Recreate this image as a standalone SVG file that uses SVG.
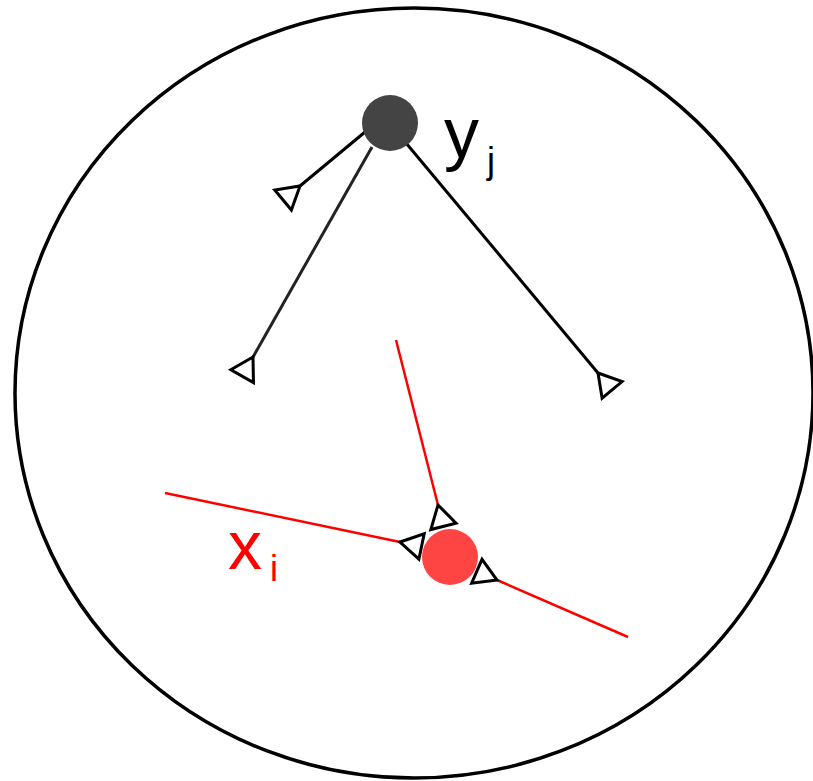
<svg xmlns="http://www.w3.org/2000/svg" width="813" height="781" viewBox="0 0 813 781">
<defs>
<style>
.blk{stroke:#000;stroke-width:3;fill:none}
.gry{stroke:#222;stroke-width:3;fill:none}
.red{stroke:#ff0000;stroke-width:2.5;fill:none}
.lbl{font-family:"Liberation Sans",Arial,sans-serif}
</style>
<marker id="tri" markerUnits="userSpaceOnUse" markerWidth="32" markerHeight="34" viewBox="-3 -17 32 34" refX="0" refY="0" orient="auto">
<path d="M0,0 L22,-13 L22,13 Z" fill="#fff" stroke="#000" stroke-width="3" stroke-linejoin="miter"/>
</marker>
</defs>
<ellipse cx="414" cy="393" rx="399" ry="385" fill="none" stroke="#000" stroke-width="3.5"/>
<g id="connectors">
<line class="blk" x1="365" y1="132" x2="300" y2="186" marker-end="url(#tri)"/>
<line class="gry" x1="372" y1="147" x2="253" y2="357" marker-end="url(#tri)"/>
<line class="blk" x1="406" y1="143" x2="598" y2="373" marker-end="url(#tri)"/>
<line class="red" x1="396" y1="340" x2="438" y2="505" marker-end="url(#tri)"/>
<line class="red" x1="165" y1="493" x2="400" y2="542" marker-end="url(#tri)"/>
<line class="red" x1="628" y1="637" x2="497" y2="580" marker-end="url(#tri)"/>
</g>
<g id="node-y">
<circle cx="390" cy="123" r="28" fill="#444"/>
<text class="lbl" x="444" y="157" font-size="70" fill="#000">y</text>
<text class="lbl" x="487" y="173" font-size="36" fill="#000">j</text>
</g>
<g id="node-x">
<circle cx="450" cy="557" r="28" fill="#ff4444"/>
<text class="lbl" x="228" y="569" font-size="68" fill="#ff0000">x</text>
<text class="lbl" x="270" y="581" font-size="36" fill="#ff0000">i</text>
</g>
</svg>
